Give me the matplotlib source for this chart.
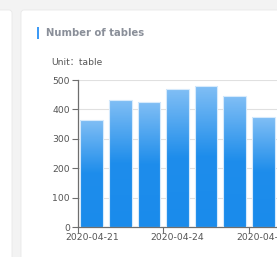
import matplotlib
matplotlib.use('Agg')
import matplotlib.pyplot as plt
from matplotlib.patches import Rectangle, FancyBboxPatch
from matplotlib.colors import LinearSegmentedColormap
import numpy as np

dates = ['2020-04-21', '2020-04-22', '2020-04-23', '2020-04-24',
         '2020-04-25', '2020-04-26', '2020-04-27']
tables = [364, 433, 425, 469, 480, 447, 375]
yticks = [0, 100, 200, 300, 400, 500]

W, H = 277, 257
fig = plt.figure(figsize=(W / 100, H / 100), dpi=100)
fig.patch.set_facecolor('#f3f3f3')

# background cards
bg = fig.add_axes([0, 0, 1, 1])
bg.set_xlim(0, W)
bg.set_ylim(H, 0)
bg.axis('off')
bg.add_patch(FancyBboxPatch((-10, 10), 22, 260, boxstyle='round,pad=0,rounding_size=3',
                            fc='white', ec='#e8e8e8', lw=0.6))
bg.add_patch(FancyBboxPatch((21, 10), 270, 260, boxstyle='round,pad=0,rounding_size=3',
                            fc='white', ec='#e8e8e8', lw=0.6))
bg.add_patch(Rectangle((36.7, 26.7), 2.6, 12.6, fc='#3d9af5', ec='none'))
bg.text(46, 33.5, 'Number of tables', fontsize=7.2, fontweight='bold',
        color='#8a8f99', va='center', ha='left')
bg.text(51, 62, 'Unit\uff1atable', fontsize=6.6, color='#555555', va='center',
        ha='left', family=['DejaVu Sans', 'Noto Sans CJK SC'])

# chart axes
left, right = 77.5, 277.5
bottom, top = 227.3, 80.0
ax = fig.add_axes([left / W, 1 - bottom / H, (right - left) / W, (bottom - top) / H])
ax.set_facecolor('none')
x = np.arange(len(tables))
ax.set_xlim(-0.5, len(tables) - 0.5)
ax.set_ylim(0, 500)

cmap = LinearSegmentedColormap.from_list('g', [(0, '#1a8bec'), (0.5, '#1e8deb'),
                                              (1, '#82bff5')])
grad = np.linspace(0, 1, 256).reshape(-1, 1)
bars = ax.bar(x, tables, width=0.8, color='none', edgecolor='#d6eafc', linewidth=0.8,
              zorder=3)
for b in bars:
    x0, w, h = b.get_x(), b.get_width(), b.get_height()
    im = ax.imshow(grad, extent=(x0, x0 + w, 0, h), origin='lower', cmap=cmap,
                   aspect='auto', zorder=2)
    im.set_clip_path(b)
ax.set_xlim(-0.5, len(tables) - 0.5)
ax.set_ylim(0, 500)

ax.set_yticks(yticks)
ax.grid(axis='y', color='#e0e0e0', lw=0.8, zorder=0)
ax.set_axisbelow(True)
for s in ['top', 'right']:
    ax.spines[s].set_visible(False)
for s in ['left', 'bottom']:
    ax.spines[s].set_color('#6e6e6e')
    ax.spines[s].set_linewidth(0.9)
ax.tick_params(axis='y', length=4, width=0.8, color='#6e6e6e', pad=1.5,
               labelsize=6.7, labelcolor='#555555')

# ticks on category boundaries, labels on bar centres
ax.set_xticks(np.arange(-0.5, len(tables), 3))
ax.set_xticklabels([])
ax.set_xticks(x[::3], minor=True)
ax.set_xticklabels([dates[i] for i in x[::3]], minor=True)
ax.tick_params(axis='x', which='major', length=4, width=0.8, color='#6e6e6e')
ax.tick_params(axis='x', which='minor', length=0, pad=4, labelsize=6.7,
               labelcolor='#555555')
for t in ax.get_xticklabels(minor=True):
    t.set_clip_on(False)

fig.savefig('out.png', dpi=100, facecolor=fig.get_facecolor())
